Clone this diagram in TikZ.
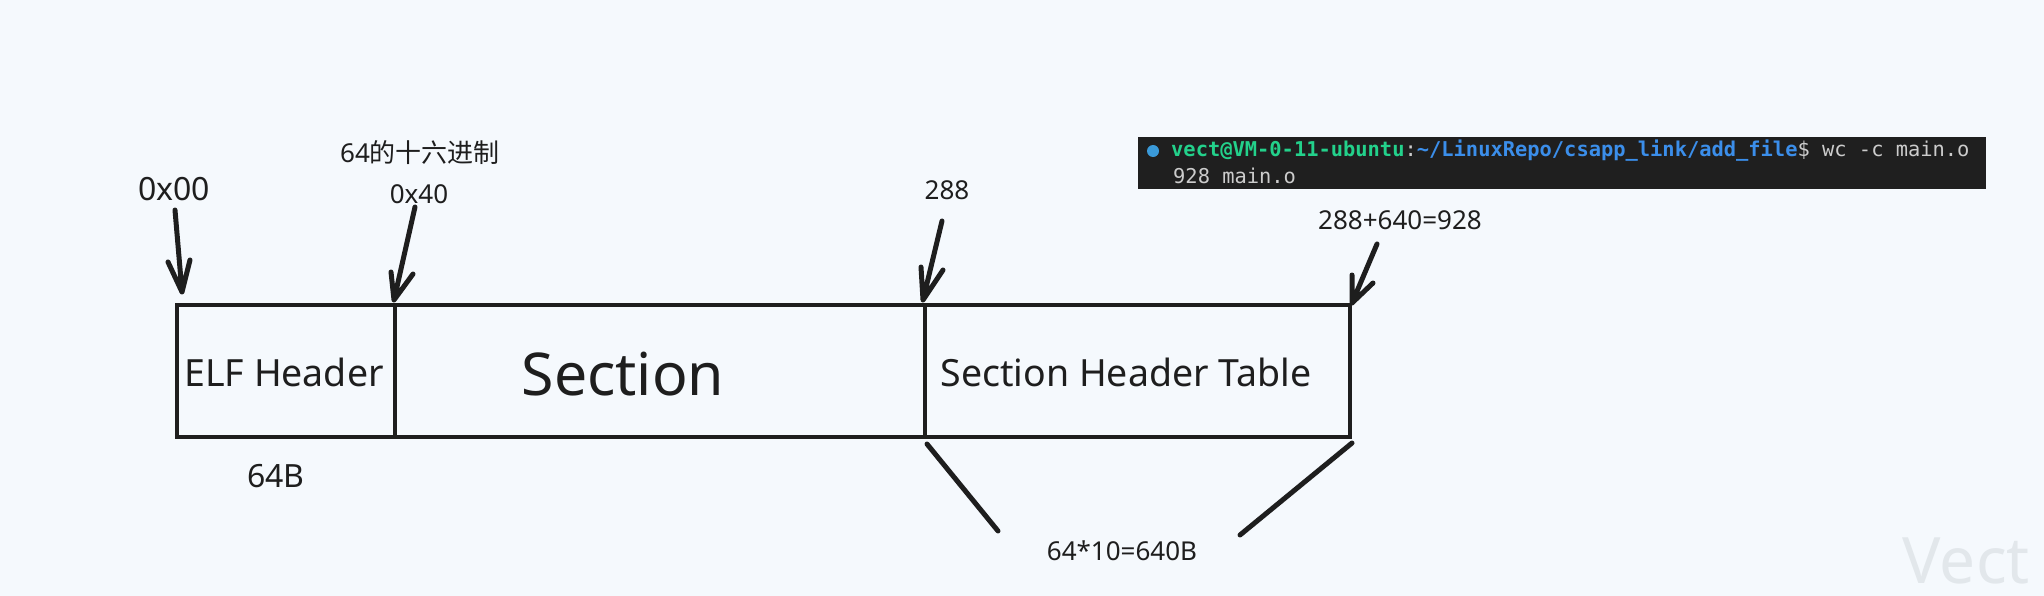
\documentclass[tikz,border=0pt]{standalone}
\usepackage{fontspec}
\setmainfont{Noto Sans}
\newfontfamily\cjk{Noto Sans CJK SC}
\newfontfamily\mono{DejaVu Sans Mono}
\definecolor{bg}{HTML}{F5F9FD}
\definecolor{ink}{HTML}{1E1E1E}
\definecolor{termbg}{HTML}{1F1F1F}
\definecolor{tgreen}{HTML}{23D18B}
\definecolor{tblue}{HTML}{3B8EEA}
\definecolor{tgray}{HTML}{CCCCCC}
\definecolor{tdot}{HTML}{3A9AD9}
\definecolor{wmark}{HTML}{E2E7EB}
\tikzset{
  cell/.style={draw=ink, line width=4.5pt, inner sep=0pt, outer sep=0pt},
  sketch/.style={draw=ink, line width=5pt, line cap=round, line join=round},
  lbl/.style={text=ink, inner sep=0pt, font=\fontsize{26}{30}\selectfont},
  biglbl/.style={text=ink, inner sep=0pt, font=\fontsize{32}{36}\selectfont},
  celltxt/.style={text=ink, inner sep=0pt, font=\fontsize{37.5}{42}\selectfont},
  termtxt/.style={inner sep=0pt, anchor=base west, font=\mono\fontsize{20.4}{24}\selectfont},
}
\begin{document}
\begin{tikzpicture}[x=1pt,y=-1pt]
\fill[bg] (0,0) rectangle (2044,596);
\useasboundingbox (0,0) rectangle (2044,596);

% cells
\node[cell, minimum width=218pt, minimum height=132pt] (elf) at (286,371) {};
\node[cell, minimum width=530pt, minimum height=132pt] (sec) at (660,371) {};
\node[cell, minimum width=425pt, minimum height=132pt] (sht) at (1137.5,371) {};

\node[celltxt] (elftxt) at (284,372) {ELF Header};
\node[text=ink, inner sep=0pt, font=\fontsize{59}{64}\selectfont] (sectxt) at (623,374) {Section};
\node[celltxt] (shttxt) at (1126,372) {Section Header Table};

% labels
\node[biglbl] (l00) at (174,189) {0x00};
\node[lbl] (lhex) at (420,153) {64{\cjk 的十六进制}};
\node[lbl] (l40) at (419,194) {0x40};
\node[lbl] (l288) at (947,190) {288};
\node[lbl] (l928) at (1400,220) {288+640=928};
\node[biglbl] (l64b) at (276,476) {64B};
\node[lbl] (l640) at (1122,551) {64*10=640B};

% arrow coordinates
\coordinate (a1s) at (175,210); \coordinate (a1t) at (182,292);
\coordinate (a1l) at (168,262); \coordinate (a1r) at (190,260);
\coordinate (a2s) at (415,207); \coordinate (a2t) at (394,300);
\coordinate (a2l) at (391,272); \coordinate (a2r) at (413,274);
\coordinate (a3s) at (942,221); \coordinate (a3t) at (923,300);
\coordinate (a3l) at (921,267); \coordinate (a3r) at (943,270);
\coordinate (a4s) at (1377,244); \coordinate (a4t) at (1352,303);
\coordinate (a4l) at (1352,275); \coordinate (a4r) at (1373,283);

\draw[sketch] (a1s) -- (a1t) (a1l) -- (a1t) -- (a1r);
\draw[sketch] (a2s) -- (a2t) (a2l) -- (a2t) -- (a2r);
\draw[sketch] (a3s) -- (a3t) (a3l) -- (a3t) -- (a3r);
\draw[sketch] (a4s) -- (a4t) (a4l) -- (a4t) -- (a4r);

% brace lines
\coordinate (b1s) at (927,444); \coordinate (b1e) at (998,531);
\coordinate (b2s) at (1352,443); \coordinate (b2e) at (1240,535);
\draw[sketch] (b1s) -- (b1e);
\draw[sketch] (b2s) -- (b2e);

% terminal
\node[fill=termbg, minimum width=848pt, minimum height=52pt, inner sep=0pt, anchor=north west] (term) at (1138,137) {};
\fill[tdot] (1153,151) circle (6pt);
\node[termtxt] (t1) at (1171,157) {\textcolor{tgreen}{\bfseries vect@VM-0-11-ubuntu}\textcolor{tgray}{:}\textcolor{tblue}{\bfseries\string~/LinuxRepo/csapp\_link/add\_file}\textcolor{tgray}{\$ wc -c main.o}};
\node[termtxt, text=tgray] (t2) at (1173,184) {928 main.o};

% watermark
\node[text=wmark, inner sep=0pt, anchor=east, font=\fontsize{64}{70}\selectfont] (wm) at (2030,561) {Vect};
\end{tikzpicture}
\end{document}
